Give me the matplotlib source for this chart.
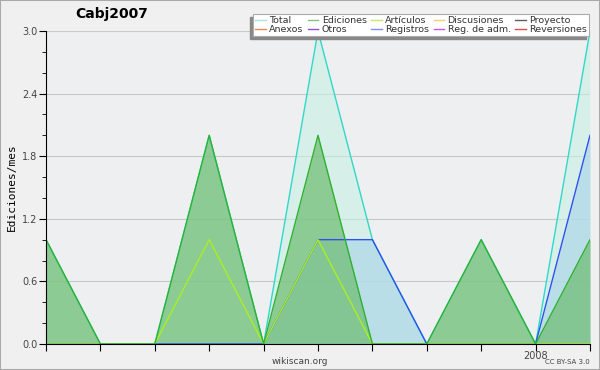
import matplotlib.pyplot as plt
import numpy as np
from matplotlib.lines import Line2D

# monthly values, Apr 2007 .. Feb 2008
months = list(range(11))
total = [1, 0, 0, 2, 0, 3, 1, 0, 1, 0, 3]
ediciones = [1, 0, 0, 2, 0, 2, 0, 0, 1, 0, 1]
articulos = [0, 0, 0, 1, 0, 1, 0, 0, 0, 0, 0]
registros = [0, 0, 0, 0, 0, 1, 1, 0, 0, 0, 2]
xlabels = ['', '', '', '', '', '', '', '', '', '2008', '']

legend_names = ['Total', 'Anexos', 'Ediciones', 'Otros', 'Artículos', 'Registros',
                'Discusiones', 'Reg. de adm.', 'Proyecto', 'Reversiones']
legend_colors = ['#a8e4e0', '#f08850', '#80c880', '#9050e0', '#c8e870', '#8090f0',
                 '#f0d070', '#d050e0', '#606060', '#e84848']

fig = plt.figure(figsize=(6, 3.7), dpi=100, facecolor='#f0f0f0')
ax = fig.add_axes([46/600, 26/370, 544/600, 313/370], facecolor='#eeeff1')

# fills
ax.fill_between(months, total, color='#c8f0e4', alpha=0.6, lw=0)
ax.fill_between(months, registros, color='#a8d4e8', alpha=0.6, lw=0)
ax.fill_between(months, ediciones, color='#6cbc70', alpha=0.7, lw=0)

# lines
ax.plot(months, total, color='#30d8c8', lw=1)
ax.plot(months, registros, color='#3050f0', lw=1)
ax.plot(months, articulos, color='#a8f020', lw=1)
ax.plot(months, ediciones, color='#30b030', lw=1)

ax.set_xlim(0, 10)
ax.set_ylim(0, 3.0)
ax.set_yticks(np.arange(0, 3.01, 0.6))
ax.set_yticks(np.arange(0, 3.01, 0.2), minor=True)
ax.set_yticklabels(['%.1f' % v for v in np.arange(0, 3.01, 0.6)])
ax.set_xticks(months)
ax.set_xticklabels(xlabels)
ax.grid(axis='y', color='#c8c8c8', lw=0.8)
ax.set_axisbelow(True)
for s in ['top', 'right']:
    ax.spines[s].set_visible(False)
ax.tick_params(axis='both', labelsize=7, colors='black', labelcolor='#444444', length=5, pad=1)
ax.tick_params(axis='y', which='minor', length=3)
ax.tick_params(axis='x', pad=0)

ax.set_ylabel('Ediciones/mes', fontsize=8, family='DejaVu Sans Mono', labelpad=4)

fig.text(112/600, 1 - 14/370, 'Cabj2007', fontsize=10, fontweight='bold', ha='center', va='center')
fig.text(300/600, 1 - 361/370, 'wikiscan.org', fontsize=6.5, color='#444444', ha='center', va='center')
fig.text(567/600, 1 - 362/370, 'CC BY-SA 3.0', fontsize=5, color='#444444', ha='center', va='center')

handles = [Line2D([], [], color=c, lw=1) for c in legend_colors]
leg = fig.legend(handles, legend_names, ncol=5, loc='upper right', bbox_to_anchor=(594/600, 1 - 9/370),
                 fontsize=6.8, handlelength=1.1, handletextpad=0.35, columnspacing=0.5,
                 labelspacing=0.0, borderpad=0.25, fancybox=False, framealpha=1,
                 edgecolor='#aaaaaa', labelcolor='#333333')
leg.get_frame().set_linewidth(0.8)
leg.set_zorder(5)

# legend shadow (gray bar on left and bottom)
fig.canvas.draw()
bb = leg.get_window_extent().transformed(fig.transFigure.inverted())
fig.patches.append(plt.Rectangle((bb.x0 - 3/600, bb.y0 - 3/370), bb.width, bb.height,
                                 transform=fig.transFigure, color='#888888', zorder=4))

# border around figure
fig.patches.append(plt.Rectangle((0, 0), 1, 1, transform=fig.transFigure, fill=False,
                                 edgecolor='#aaaaaa', lw=1.5))

fig.savefig('out.png', dpi=100, facecolor=fig.get_facecolor())
